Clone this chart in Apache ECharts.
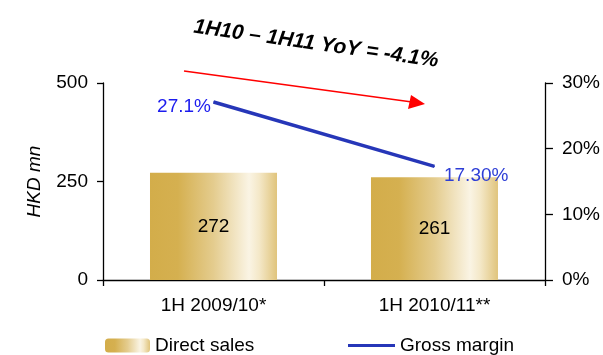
<!DOCTYPE html>
<html>
<head>
<meta charset="utf-8">
<script src="https://cdn.jsdelivr.net/npm/echarts@6/dist/echarts.min.js"></script>
<style>html,body{margin:0;padding:0;background:#fff}#c{width:603px;height:355px}</style>
</head>
<body>
<div id="c"></div>
<script>
var categories = ['1H 2009/10*', '1H 2010/11**'];
var directSales = [272, 261];
var grossMargin = [0.271, 0.173];
var grossMarginLabels = ['27.1%', '17.30%'];
var leftTicks = [0, 250, 500];
var rightTicks = [0, 0.1, 0.2, 0.3];
var titleText = '1H10 \u2013 1H11 YoY = -4.1%';

var FONT = 'Liberation Sans, Arial, sans-serif';
var chart = echarts.init(document.getElementById('c'));
var gold = new echarts.graphic.LinearGradient(0, 0, 1, 0, [
  {offset: 0, color: '#D3AD4A'},
  {offset: 0.22, color: '#D5B050'},
  {offset: 0.5, color: '#E4CC8E'},
  {offset: 0.78, color: '#FAF4E4'},
  {offset: 0.86, color: '#F4E8C8'},
  {offset: 1, color: '#E0C47C'}
]);
var axisLine = {show: true, lineStyle: {color: '#000', width: 1.3}};
chart.setOption({
  animation: false,
  grid: {left: 103, right: 58, top: 83, bottom: 75},
  legend: [
    {data: ['Direct sales'], left: 105, top: 336, padding: 0, itemWidth: 45, itemHeight: 14, itemGap: 0,
     textStyle: {fontFamily: FONT, fontSize: 19, color: '#000'}},
    {data: [{name: 'Gross margin', icon: 'rect'}], left: 348, top: 336, padding: 0, itemWidth: 47, itemHeight: 3,
     textStyle: {fontFamily: FONT, fontSize: 19, color: '#000'}}
  ],
  xAxis: {
    type: 'category', data: categories,
    axisLine: axisLine,
    axisTick: {show: true, length: 6, lineStyle: {color: '#000', width: 1.3}},
    axisLabel: {fontFamily: FONT, fontSize: 19, color: '#000', margin: 16}
  },
  yAxis: [
    {type: 'value', min: leftTicks[0], max: leftTicks[leftTicks.length - 1], interval: 250,
     name: 'HKD mn', nameLocation: 'middle', nameGap: 59, nameRotate: 90,
     nameTextStyle: {fontFamily: FONT, fontSize: 19, fontStyle: 'italic', color: '#000'},
     axisLine: axisLine, axisTick: {show: true, length: 6, lineStyle: {color: '#000', width: 1.3}},
     splitLine: {show: false},
     axisLabel: {fontFamily: FONT, fontSize: 19, color: '#000', margin: 15}},
    {type: 'value', min: rightTicks[0], max: rightTicks[rightTicks.length - 1], interval: 0.1, position: 'right',
     axisLine: axisLine, axisTick: {show: true, length: 8, lineStyle: {color: '#000', width: 1.3}},
     splitLine: {show: false},
     axisLabel: {fontFamily: FONT, fontSize: 19, color: '#000', margin: 17,
       formatter: function (v) { return Math.round(v * 100) + '%'; }}}
  ],
  series: [
    {name: 'Direct sales', type: 'bar', data: directSales, barWidth: 127, yAxisIndex: 0,
     itemStyle: {color: gold},
     label: {show: true, position: 'inside', fontFamily: FONT, fontSize: 19, color: '#000'}},
    {name: 'Gross margin', type: 'line', yAxisIndex: 1, symbol: 'circle', symbolSize: 1, showSymbol: true,
     lineStyle: {color: '#2636B8', width: 3.5}, itemStyle: {color: '#2636B8'},
     data: [
       {value: grossMargin[0], label: {position: 'left', distance: 2, offset: [0, 5], color: '#1C1CEE'}},
       {value: grossMargin[1], label: {position: 'right', distance: 5, offset: [4, 9], color: '#2E3ED6'}}
     ],
     label: {show: true, fontFamily: FONT, fontSize: 19, color: '#2424E0',
       formatter: function (p) { return grossMarginLabels[p.dataIndex]; }}}
  ],
  graphic: [
    {type: 'text', x: 316, y: 44, rotation: -0.14,
     style: {text: titleText, x: 0, y: 0, align: 'center', verticalAlign: 'middle',
       font: 'italic bold 21px ' + FONT, fill: '#000'}},
    {type: 'line', shape: {x1: 184, y1: 71, x2: 412, y2: 102}, style: {stroke: '#FF0000', lineWidth: 1.6}},
    {type: 'polygon', shape: {points: [[425, 104], [408, 109], [411, 95]]}, style: {fill: '#FF0000'}}
  ]
});
</script>
</body>
</html>
